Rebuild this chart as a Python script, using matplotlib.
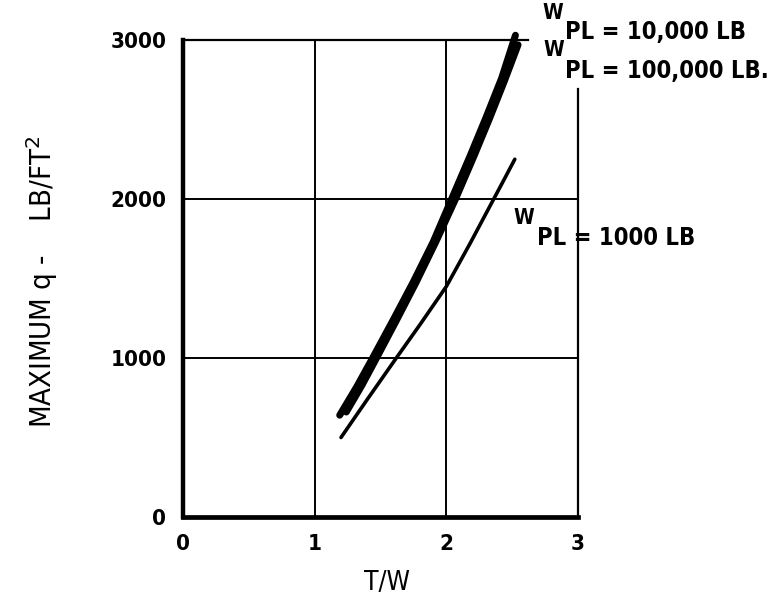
import matplotlib
matplotlib.use('Agg')
from matplotlib import pyplot as plt

# curve readings from the reference (T/W, max q in LB/FT^2)
tw_10k = [1.19, 1.32, 1.44, 1.60, 1.75, 1.90, 2.04, 2.18, 2.30, 2.42, 2.525]
q_10k = [640, 820, 1000, 1245, 1480, 1730, 2000, 2270, 2510, 2760, 3030]

tw_100k = [1.24, 1.36, 1.47, 1.62, 1.77, 1.92, 2.07, 2.21, 2.33, 2.44, 2.545]
q_100k = [660, 830, 1000, 1235, 1475, 1730, 2000, 2270, 2510, 2740, 2970]

tw_1k = [1.20, 1.40, 1.62, 1.80, 2.00, 2.18, 2.36, 2.45, 2.52]
q_1k = [500, 740, 1000, 1210, 1450, 1720, 2000, 2140, 2250]

x_ticks = [0, 1, 2, 3]
y_ticks = [0, 1000, 2000, 3000]

W, H = 776, 602
FONT = dict(family='DejaVu Sans', stretch='condensed')

fig = plt.figure(figsize=(W / 100, H / 100), dpi=100)
ax = fig.add_axes([183 / W, 1 - 517 / H, 395 / W, 477 / H])

ax.set_xlim(0, 3)
ax.set_ylim(0, 3000)
ax.set_xticks(x_ticks)
ax.set_yticks(y_ticks)
ax.set_xticklabels([str(t) for t in x_ticks], fontsize=16, fontweight='bold', **FONT)
ax.set_yticklabels([str(t) for t in y_ticks], fontsize=16, fontweight='bold', **FONT)
ax.tick_params(axis='x', length=0, pad=12)
ax.tick_params(axis='y', length=0, pad=12)

# grid
for gx in [1, 2]:
    ax.plot([gx, gx], [0, 3000], color='black', lw=1.4, zorder=1)
for gy in [1000, 2000]:
    ax.plot([0, 3], [gy, gy], color='black', lw=1.4, zorder=1)

# frame: heavy left/bottom, broken top/right
for s in ['top', 'right']:
    ax.spines[s].set_visible(False)
ax.spines['left'].set_linewidth(3.2)
ax.spines['bottom'].set_linewidth(3.4)
ax.plot([0, 2.62], [3000, 3000], color='black', lw=1.6, clip_on=False, zorder=1)
ax.plot([3, 3], [0, 2690], color='black', lw=1.6, clip_on=False, zorder=1)

ax.plot(tw_10k, q_10k, color='black', lw=5, solid_capstyle='round', clip_on=False, zorder=3)
ax.plot(tw_100k, q_100k, color='black', lw=5, solid_capstyle='round', clip_on=False, zorder=3)
ax.plot(tw_1k, q_1k, color='black', lw=2.6, solid_capstyle='round', clip_on=False, zorder=3)

fig.text(387 / W, 1 - 583 / H, 'T/W', fontsize=19, ha='center', va='center', **FONT)
fig.text(42 / W, 1 - 282 / H, 'MAXIMUM q -    LB/FT$^2$', fontsize=21, rotation=90,
         ha='center', va='center', **FONT)

# curve labels: (W x, W y, text x, text y) in pixels
labels = [
    (542, 13, 565, 32, 'PL = 10,000 LB'),
    (543, 50, 565, 71, 'PL = 100,000 LB.'),
    (513, 218, 537, 238, 'PL = 1000 LB'),
]
for wx, wy, px, py, txt in labels:
    fig.text(wx / W, 1 - wy / H, 'W', fontsize=15, fontweight='bold', va='center', **FONT)
    fig.text(px / W, 1 - py / H, txt, fontsize=17, fontweight='bold', va='center', **FONT)

fig.savefig('out.png', dpi=100)
